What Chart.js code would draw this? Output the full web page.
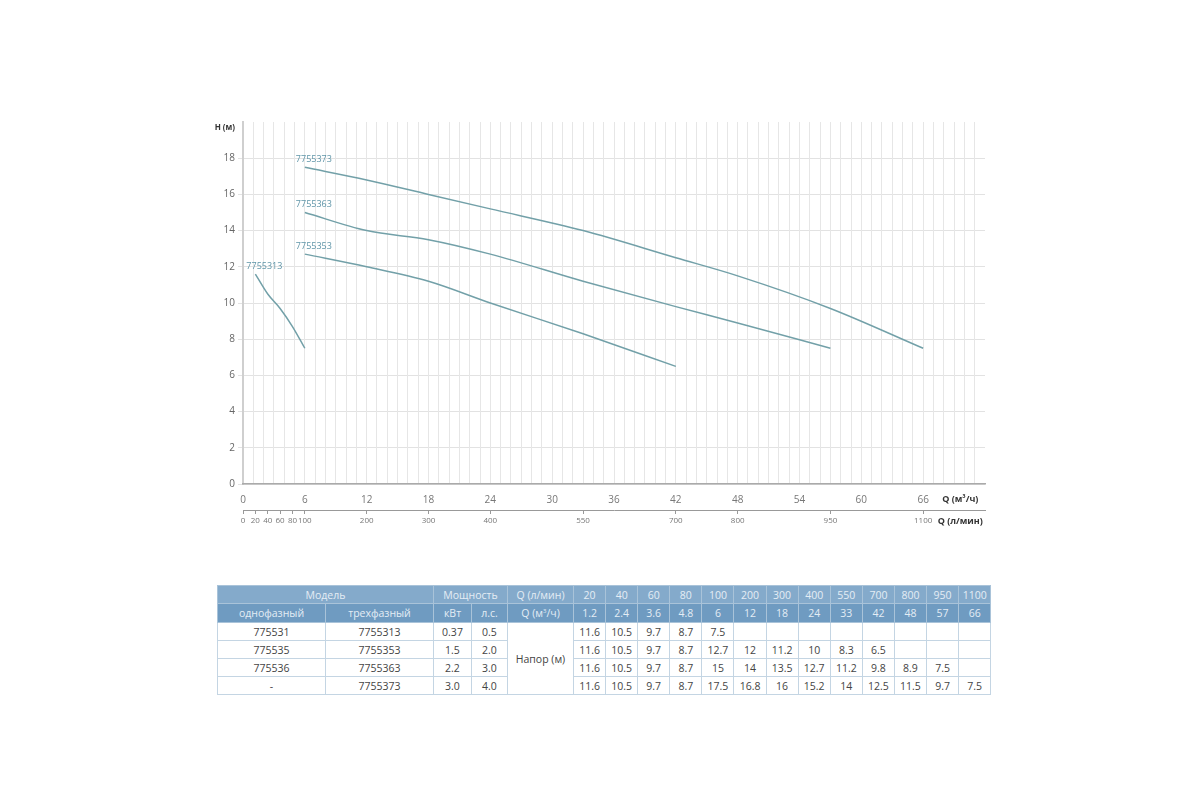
<!DOCTYPE html>
<html>
<head>
<meta charset="utf-8">
<script src="https://cdn.jsdelivr.net/npm/chart.js@4"></script>
<style>
  body { margin: 0; background: #fff; font-family: "Open Sans", sans-serif; }
  #wrap { position: absolute; left: 190px; top: 100px; width: 810px; height: 440px; }
  table { position: absolute; left: 217px; top: 585px; border-collapse: collapse; table-layout: fixed; width: 773px; font-size: 10.5px; color: #444; }
  td { border: 1px solid #c4d5e3; text-align: center; padding: 0; height: 17px; }
  tr.h1 td { background: #84aacb; color: #e4edf5; border-color: #a9c3d9; height: 17px; }
  tr.h2 td { background: #6f9bc1; color: #e4edf5; border-color: #a9c3d9; height: 18px; }
</style>
</head>
<body>
<div id="wrap"><canvas id="chart" width="810" height="440"></canvas></div>
<table id="tbl"></table>
<script>
// flow points, m3/h and l/min
const qM3 = [1.2, 2.4, 3.6, 4.8, 6, 12, 18, 24, 33, 42, 48, 57, 66];
const qLmin = [20, 40, 60, 80, 100, 200, 300, 400, 550, 700, 800, 950, 1100];

// models
const singlePhase = ["775531", "775535", "775536", "-"];
const threePhase = ["7755313", "7755353", "7755363", "7755373"];
const powerKw = ["0.37", "1.5", "2.2", "3.0"];
const powerHp = ["0.5", "2.0", "3.0", "4.0"];

// head (m) per model, null = no value
const head313 = [11.6, 10.5, 9.7, 8.7, 7.5, null, null, null, null, null, null, null, null];
const head353 = [11.6, 10.5, 9.7, 8.7, 12.7, 12, 11.2, 10, 8.3, 6.5, null, null, null];
const head363 = [11.6, 10.5, 9.7, 8.7, 15, 14, 13.5, 12.7, 11.2, 9.8, 8.9, 7.5, null];
const head373 = [11.6, 10.5, 9.7, 8.7, 17.5, 16.8, 16, 15.2, 14, 12.5, 11.5, 9.7, 7.5];
const heads = [head313, head353, head363, head373];
// curve on the chart starts at this column
const curveStart = [0, 4, 4, 4];

const yTicks = [0, 2, 4, 6, 8, 10, 12, 14, 16, 18];
const xLabelEvery = 6;
const axisTitlePos = 69.6;
const yTitlePos = 19.7;

// ---- table ----
const tbl = document.getElementById("tbl");
let html = "<colgroup><col style='width:108px'><col style='width:108px'><col style='width:38px'><col style='width:36px'><col style='width:66px'>";
qM3.forEach(() => { html += "<col style='width:32.1px'>"; });
html += "</colgroup>";
html += "<tr class='h1'><td colspan='2'>Модель</td><td colspan='2'>Мощность</td><td>Q (л/мин)</td>" +
  qLmin.map(v => "<td>" + v + "</td>").join("") + "</tr>";
html += "<tr class='h2'><td>однофазный</td><td>трехфазный</td><td>кВт</td><td>л.с.</td><td>Q (м<sup style='font-size:6px'>3</sup>/ч)</td>" +
  qM3.map(v => "<td>" + v + "</td>").join("") + "</tr>";
heads.forEach((row, i) => {
  html += "<tr><td>" + singlePhase[i] + "</td><td>" + threePhase[i] + "</td><td>" + powerKw[i] + "</td><td>" + powerHp[i] + "</td>";
  if (i === 0) html += "<td rowspan='4'>Напор (м)</td>";
  html += row.map(v => "<td>" + (v === null ? "" : v) + "</td>").join("") + "</tr>";
});
tbl.innerHTML = html;

// ---- chart ----
const datasets = heads.map((row, i) => {
  const pts = [];
  for (let j = curveStart[i]; j < row.length; j++) {
    if (row[j] !== null) pts.push({ x: qM3[j], y: row[j] });
  }
  return {
    label: threePhase[i],
    data: pts,
    borderColor: "#72a0a8",
    borderWidth: 1.5,
    pointRadius: 0,
    fill: false,
    tension: 0.4,
    cubicInterpolationMode: "monotone"
  };
});

// model name next to the first point of each curve
const curveLabels = {
  id: "curveLabels",
  afterDatasetsDraw(chart) {
    const ctx = chart.ctx;
    ctx.save();
    ctx.font = "9px 'Open Sans'";
    ctx.fillStyle = "#5f95a8";
    ctx.textBaseline = "middle";
    chart.data.datasets.forEach((ds, i) => {
      const p = chart.getDatasetMeta(i).data[0];
      ctx.fillText(ds.label, p.x - 9, p.y - 8);
    });
    ctx.restore();
  }
};

const x2Labels = [0].concat(qLmin).concat(["Q (л/мин)"]);
const x2Values = [0].concat(qM3).concat([axisTitlePos]);

new Chart(document.getElementById("chart").getContext("2d"), {
  type: "line",
  data: { datasets: datasets },
  plugins: [curveLabels],
  options: {
    responsive: false,
    animation: false,
    layout: { padding: { top: 22, right: 15, left: 0, bottom: 0 } },
    plugins: { legend: { display: false }, tooltip: { enabled: false } },
    scales: {
      y: {
        min: 0, max: 20,
        afterFit(s) { s.width = 53; },
        afterBuildTicks(s) { s.ticks = yTicks.concat([yTitlePos]).map(v => ({ value: v })); },
        ticks: {
          padding: 3,
          color: c => c.tick && c.tick.value === yTitlePos ? "#333" : "#666",
          callback: v => v === yTitlePos ? "H (м)" : v,
          font: c => c.tick && c.tick.value === yTitlePos ? { size: 8, weight: "bold", family: "Open Sans" } : { size: 10, family: "Open Sans" }
        },
        grid: {
          tickLength: 5,
          color: c => c.tick && c.tick.value === yTitlePos ? "rgba(0,0,0,0)" : "#e2e2e2"
        },
        border: { color: "#cfcfcf", width: 2 }
      },
      x: {
        type: "linear",
        min: 0, max: 72,
        weight: 0,
        afterFit(s) { s.height = 26; },
        afterBuildTicks(s) {
          const t = [];
          for (let v = 0; v <= 72; v++) t.push({ value: v });
          t.push({ value: axisTitlePos });
          t.sort((a, b) => a.value - b.value);
          s.ticks = t;
        },
        ticks: {
          autoSkip: false, maxRotation: 0, padding: 10,
          color: c => c.tick && c.tick.value === axisTitlePos ? "#333" : "#777",
          callback: v => v === axisTitlePos ? "Q (м³/ч)" : (v % xLabelEvery === 0 && v <= 66 ? v : ""),
          font: c => c.tick && c.tick.value === axisTitlePos ? { size: 9, weight: "bold", family: "Open Sans" } : { size: 10, family: "Open Sans" }
        },
        grid: {
          drawTicks: false,
          color: c => c.tick && (c.tick.value === axisTitlePos || c.tick.value === 72) ? "rgba(0,0,0,0)" : "#e6e6e6"
        },
        border: { color: "#aaaaaa", width: 1.5 }
      },
      x2: {
        type: "linear",
        position: "bottom",
        min: 0, max: 72,
        weight: 1,
        afterFit(s) { s.height = 30; },
        afterBuildTicks(s) { s.ticks = x2Values.map(v => ({ value: v })); },
        ticks: {
          autoSkip: false, maxRotation: 0, padding: 2,
          color: c => c.tick && c.tick.value === axisTitlePos ? "#333" : "#777",
          callback: (v, i) => x2Labels[i],
          font: c => c.tick && c.tick.value === axisTitlePos ? { size: 9, weight: "bold", family: "Open Sans" } : { size: 8, family: "Open Sans" }
        },
        grid: {
          drawOnChartArea: false,
          tickLength: 4,
          color: c => c.tick && c.tick.value === axisTitlePos ? "rgba(0,0,0,0)" : "#999"
        },
        border: { color: "#999", width: 1 }
      }
    }
  }
});
</script>
</body>
</html>
